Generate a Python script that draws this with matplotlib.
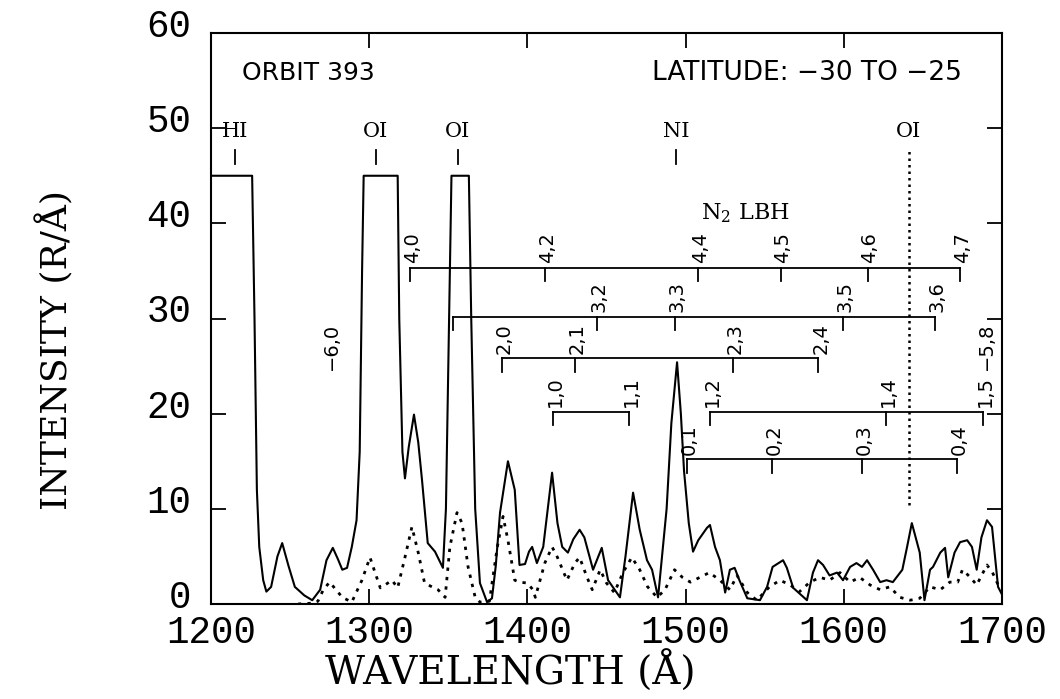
import matplotlib
matplotlib.use("Agg")
import matplotlib.pyplot as plt
from matplotlib.transforms import ScaledTranslation

# ---------------- data ----------------
wl_solid = [1200, 1226, 1227.5, 1229, 1230.5, 1233, 1235, 1238, 1242, 1245, 1249, 1253, 1259, 1264,
            1269, 1273, 1277, 1280, 1283, 1286, 1289, 1292, 1294, 1295.5, 1296.5, 1318, 1319, 1321,
            1322.6, 1325, 1328.3, 1331, 1333.4, 1337, 1341.6, 1346.6, 1348.5, 1350.5, 1352, 1363,
            1364.5, 1367, 1370, 1374.5, 1377.6, 1380, 1382.7, 1387.7, 1392, 1395, 1398.5, 1401, 1403,
            1406, 1410, 1415.6, 1419, 1422, 1425.6, 1429, 1433, 1436, 1441.5, 1447, 1451, 1458.5,
            1462, 1466.8, 1471, 1475.6, 1478.8, 1482.6, 1488, 1491, 1494.6, 1497, 1499, 1502, 1504.7,
            1508, 1511, 1513.5, 1515.4, 1518.6, 1521.7, 1525, 1528, 1531, 1534, 1539, 1547, 1551.5,
            1555, 1559.7, 1561.6, 1564, 1568, 1576.7, 1580.5, 1583.7, 1586.9, 1591, 1595.7, 1599.5,
            1604, 1608, 1611.5, 1614.7, 1618.5, 1623, 1627, 1631, 1637, 1640, 1643, 1648, 1651,
            1654.5, 1656.4, 1661, 1664, 1666, 1670, 1673.5, 1678, 1681, 1684, 1687, 1690.5, 1693.7,
            1697.5, 1700]
int_solid = [45, 45, 30, 12, 6, 2.5, 1.3, 1.8, 5, 6.4, 4, 1.8, 0.9, 0.4,
             1.5, 4.6, 5.9, 4.8, 3.6, 3.8, 6.0, 8.8, 16, 35, 45, 45, 30, 16,
             13.2, 16.5, 19.9, 17, 13, 6.4, 5.5, 3.8, 10, 30, 45, 45,
             30, 10, 2.2, 0.2, 0.6, 4, 9.6, 15, 12, 4.1, 4.2, 5.5, 6.0,
             4.3, 6, 13.8, 8.5, 6, 5.4, 6.8, 7.8, 7, 3.6, 5.9, 2.5, 0.7,
             5, 11.7, 7.8, 4.6, 3.6, 0.7, 10, 19, 25.4, 20, 14, 8.5, 5.5,
             6.7, 7.4, 8.0, 8.3, 6.0, 4.6, 1.2, 3.6, 3.8, 2.5, 0.6, 0.4, 1.8,
             3.9, 4.4, 4.6, 3.8, 1.7, 0.4, 3.3, 4.6, 4.1, 3.0, 3.3, 2.5,
             3.9, 4.3, 3.9, 4.6, 3.6, 2.3, 2.5, 2.3, 3.6, 6, 8.5, 5.4, 0.4,
             3.6, 3.9, 5.4, 5.9, 2.8, 5.4, 6.5, 6.7, 6.0, 3.6, 7.0, 8.8, 8.1,
             1.8, 1.0]

wl_dot = [1255, 1265, 1267.6, 1271, 1275, 1279, 1283, 1289, 1295.4, 1300.5, 1303.7, 1307, 1310,
          1314.4, 1318, 1322.6, 1327, 1331, 1335, 1339.7, 1343.5, 1348, 1351, 1355.5, 1358.7,
          1362.5, 1367, 1370, 1376, 1381, 1384.6, 1387.7, 1392, 1395, 1400, 1403.5, 1405, 1411,
          1415.6, 1419, 1425, 1430, 1433, 1437.7, 1441, 1446, 1450, 1455, 1460.4, 1466, 1471,
          1476, 1482, 1487, 1493, 1498, 1503, 1509, 1515, 1521.7, 1528, 1532.5, 1539, 1545, 1553,
          1559.7, 1566, 1572, 1578.6, 1585, 1591, 1597.6, 1604, 1610, 1616.6, 1623, 1629, 1635.5,
          1642, 1648, 1654.5, 1661, 1667, 1672, 1675, 1680, 1684, 1690.5, 1694, 1699]
int_dot = [0, 0.1, 0.3, 1.5, 2.3, 1.5, 0.7, 0.2, 2.5, 4.9, 3.3, 1.7, 2.0,
           2.5, 1.7, 4.9, 8.1, 5.4, 2.2, 1.8, 1.5, 0.7, 6, 9.6, 8.5,
           3.9, 0.7, 0.2, 0.3, 6, 9.2, 6.7, 2.5, 2.3, 2.2, 1.5, 0.7, 4.3,
           6.0, 4.9, 2.5, 4.3, 4.9, 2.8, 1.5, 3.6, 2.2, 1.2, 3.3, 4.9, 3.6,
           1.8, 0.7, 1.5, 3.6, 2.8, 2.3, 2.8, 3.3, 2.5, 1.5, 3.0, 1.2, 0.4, 1.8,
           2.5, 2.0, 1.3, 2.3, 2.8, 2.5, 3.3, 2.3, 2.8, 2.0, 1.5, 1.8, 0.7,
           0.4, 0.6, 1.8, 1.5, 2.3, 2.3, 3.6, 2.8, 2.0, 4.1, 3.3, 1.5]

# atomic line identifications
atom_wl = [1215, 1304, 1356, 1494, 1641]
atom_lbl = ["HI", "OI", "OI", "NI", "OI"]

# N2 LBH band progressions
prog_y = [35.3, 30.2, 25.8, 20.2, 20.2, 15.2]
prog_start = [1326, 1353, 1384, 1416, 1515.4, 1501]
prog_wl = [[1326, 1411, 1508, 1560, 1615, 1673.5],
           [1444, 1493, 1599.5, 1657.6],
           [1384, 1430, 1530, 1584],
           [1416, 1464],
           [1515.4, 1626.7, 1688],
           [1501, 1554.6, 1611.5, 1671.5]]
prog_lbl = [["4,0", "4,2", "4,4", "4,5", "4,6", "4,7"],
            ["3,2", "3,3", "3,5", "3,6"],
            ["2,0", "2,1", "2,3", "2,4"],
            ["1,0", "1,1"],
            ["1,2", "1,4", "1,5"],
            ["0,1", "0,2", "0,3", "0,4"]]
single_wl = [1276, 1690]
single_y = [24.6, 24.6]
single_lbl = ["\u22126,0", "\u22125,8"]

x_ticks = [1200, 1300, 1400, 1500, 1600, 1700]
y_ticks = [0, 10, 20, 30, 40, 50, 60]

# ---------------- figure ----------------
plt.rcParams['mathtext.fontset'] = 'dejavuserif'
fig = plt.figure(figsize=(10.6, 6.99), dpi=100)
ax = fig.add_axes([211/1060, 1-604/699, (1002-211)/1060, (604-33)/699])

ax.plot(wl_solid, int_solid, color='black', lw=1.5, solid_joinstyle='round')
ax.plot(wl_dot, int_dot, color='black', lw=2.0, linestyle=(0, (1.2, 2.2)))

ax.set_xlim(1200, 1700)
ax.set_ylim(0, 60)
ax.set_xticks(x_ticks)
ax.set_yticks(y_ticks)
ax.tick_params(direction='in', length=11, width=1.3, top=True, right=True, labelsize=27)
ax.tick_params(axis='x', pad=8)
ax.tick_params(axis='y', pad=14)
up = ScaledTranslation(0, 10/100, fig.dpi_scale_trans)
for lab in ax.get_xticklabels() + ax.get_yticklabels():
    lab.set_fontfamily('Liberation Mono')
for lab in ax.get_yticklabels():
    lab.set_transform(lab.get_transform() + up)
for s in ax.spines.values():
    s.set_linewidth(1.5)

# atomic line labels
for w, l in zip(atom_wl, atom_lbl):
    ax.text(w, 49.6, l, ha='center', va='center', fontsize=15, family='DejaVu Serif')
    if w != 1641:
        ax.plot([w, w], [46.2, 47.7], color='black', lw=1.3)
ax.plot([1641, 1641], [10.4, 47.6], color='black', lw=1.8, linestyle=(0, (1, 1.6)))

# progressions
tick_len = 1.4
for y0, x0, wls, lbls in zip(prog_y, prog_start, prog_wl, prog_lbl):
    ax.plot([x0, wls[-1]], [y0, y0], color='black', lw=1.3)
    if x0 not in wls:
        ax.plot([x0, x0], [y0, y0 - tick_len], color='black', lw=1.3)
    for w, l in zip(wls, lbls):
        ax.plot([w, w], [y0, y0 - tick_len], color='black', lw=1.3)
        ax.text(w + 1.5, y0 + 0.5, l, rotation=90, ha='center', va='bottom',
                fontsize=14, family='DejaVu Sans')
for w, y0, l in zip(single_wl, single_y, single_lbl):
    ax.text(w, y0, l, rotation=90, ha='center', va='bottom', fontsize=14, family='DejaVu Sans')

ax.text(1537.5, 41.1, r"N$_2$ LBH", ha='center', va='center', fontsize=16, family='DejaVu Serif')
ax.text(1219.6, 55.8, "ORBIT 393", ha='left', va='center', fontsize=18, family='DejaVu Sans')
ax.text(1674.7, 55.8, "LATITUDE: \u221230 TO \u221225", ha='right', va='center', fontsize=19,
        family='DejaVu Sans')

fig.text(510/1060, 1-672/699, "WAVELENGTH (Å)", ha='center', va='center', fontsize=28,
         family='DejaVu Serif')
fig.text(55/1060, 1-350/699, "INTENSITY (R/Å)", ha='center', va='center', rotation=90,
         fontsize=26, family='DejaVu Serif')

fig.savefig("out.png", dpi=100)
